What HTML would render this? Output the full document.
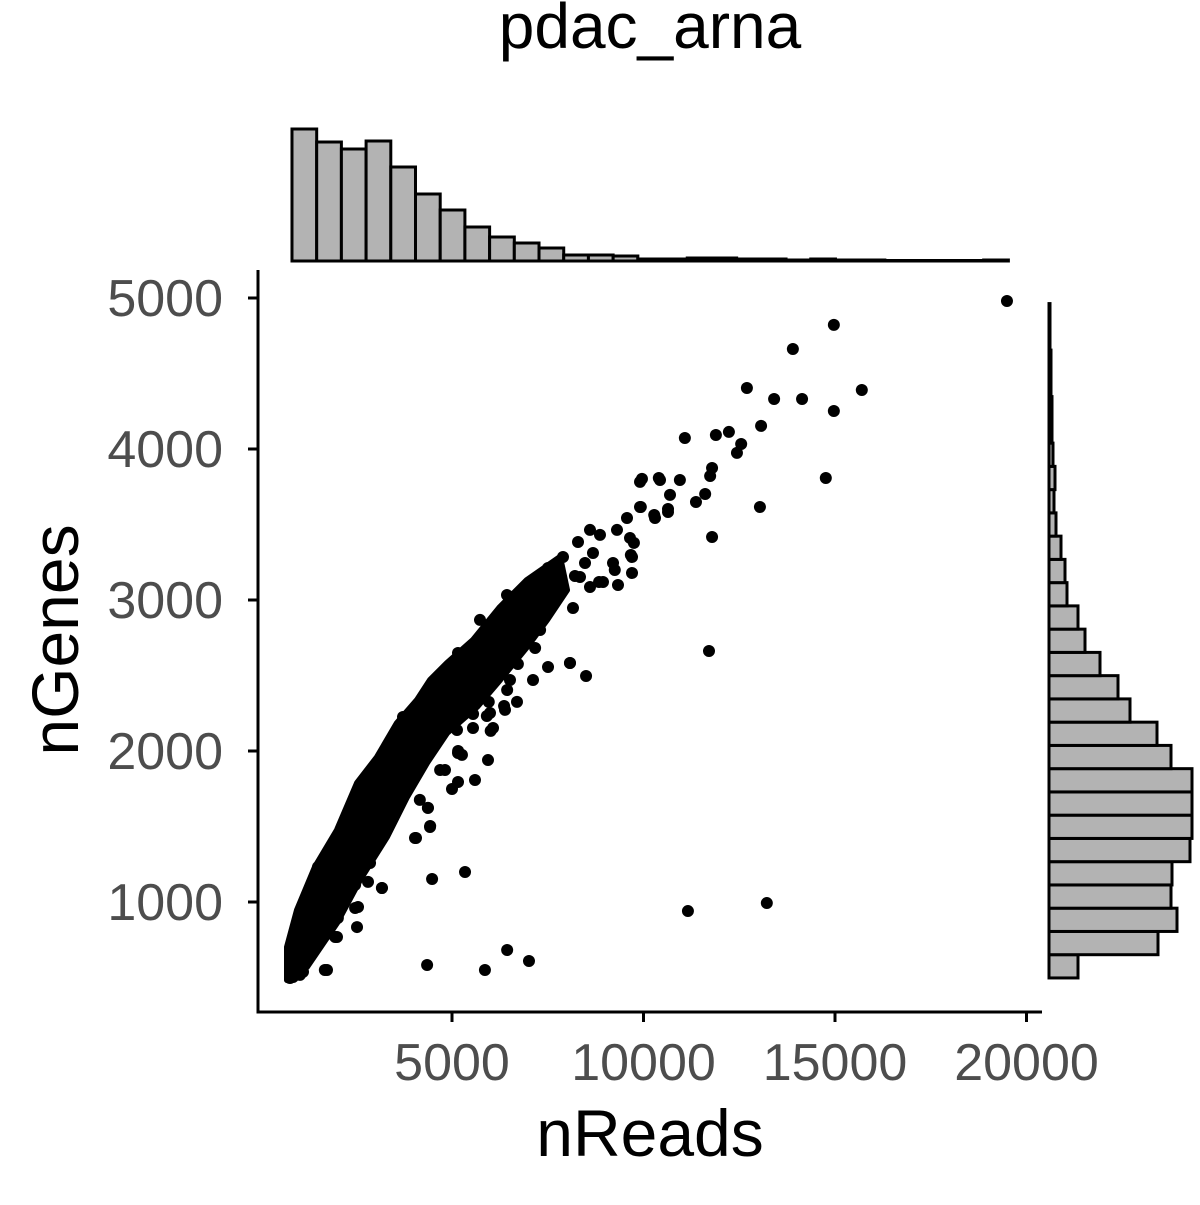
<!DOCTYPE html>
<html><head><meta charset="utf-8"><style>
html,body{margin:0;padding:0;background:#fff;}
svg text{font-family:"Liberation Sans",Arial,sans-serif;}
</style></head><body>
<svg id="chart" width="1200" height="1200" viewBox="0 0 1200 1200" xmlns="http://www.w3.org/2000/svg">
<text x="650" y="48" font-size="64" text-anchor="middle" fill="#000">pdac_arna</text>
<g id="marg-top"></g>
<g id="marg-right"></g>
<g id="points"></g>
<g id="axes"></g>
<text x="650" y="1156" font-size="66" text-anchor="middle" fill="#000">nReads</text>
<text transform="translate(78,640) rotate(-90)" font-size="66" text-anchor="middle" fill="#000">nGenes</text>
</svg>
<script>
const xTicks = [5000, 10000, 15000, 20000];
const yTicks = [1000, 2000, 3000, 4000, 5000];
const topBinStart = 822;
const topBinWidth = 645;
const topCounts = [132,119,112,120,94,67,51,34,24,18,13,6,6,5,2,2,3,3,2,2,1,2,1,1,0,0,0,0,1];
const rightBinStart = 497;
const rightBinWidth = 154;
const rightCounts = [29,109,128,122,123,141,143,143,143,122,108,81,69,51,36,29,18,16,12,7,5,6,4,3,3,2,2,1,1];
const coreUpperReads = [692,953,1423,1997,2520,3042,3564,4086,4426,4870,5548,6253,6958,7820];
const coreUpperGenes = [702,947,1232,1477,1788,1960,2186,2338,2470,2583,2735,2954,3133,3285];
const coreLowerReads = [8003,7481,6958,6253,5653,4870,4347,3825,3303,2598,1997,1214,692];
const coreLowerGenes = [3066,2868,2689,2470,2292,2119,1921,1695,1431,1146,861,570,483];
const pointReads = [19490,14970,13900,12700,13410,14140,15700,14970,11080,11890,12230,12550,12440,13070,11790,11740,14760,9960,10400,10950,11610,11370,13040,9930,10280,10640,11790,11710,8080,8500,9750,9670,9250,8840,8210,7770,7870,7510,7350,6980,7300,7170,6720,6440,6360,5960,6010,5910,5130,5550,5160,5940,5600,5260,5000,4690,4160,4060,4370,4430,4480,5340,2860,3170,2470,2470,2020,1950,1680,1030,4350,5860,6440,7010,11160,13220,900,770,
9909,10431,10692,9909,10300,10640,9569,8603,8290,8864,9308,9648,9700,9700,9334,8942,8603,8342,8473,8681,9204,7898,7507,7115,6436,5731,5157,3721,3381,2650,1501,8159,7507,8081,7115,6514,6697,6384,5992,6071,5548,5157,4817,5157,4373,4426,4034,3172,2807,2546,2520,1997,1736,1110,849];
const pointGenes = [4980,4822,4662,4404,4331,4331,4391,4252,4073,4093,4113,4033,3974,4153,3874,3821,3808,3802,3808,3795,3702,3649,3616,3616,3563,3603,3417,2662,2583,2497,3378,3298,3199,3119,3159,3212,3093,3066,2974,2868,2801,2682,2576,2404,2298,2325,2133,2232,2139,2245,2000,1940,1808,1974,1748,1874,1676,1424,1623,1503,1152,1199,1258,1093,1113,960,894,768,550,517,583,550,682,609,940,993,563,497,
3782,3795,3696,3616,3543,3583,3543,3464,3384,3431,3464,3411,3285,3179,3099,3119,3086,3152,3245,3311,3245,3285,3212,3133,3033,2868,2649,2225,2027,1795,1232,2947,2556,2583,2470,2470,2325,2272,2252,2152,2152,1987,1874,1795,1623,1497,1424,1093,1133,967,834,768,550,537,503];

const NS = "http://www.w3.org/2000/svg";
const sx = v => 260.5 + v * 0.0383;
const sy = v => 1053 - v * 0.151;
function mk(tag, attrs, parent){ const e=document.createElementNS(NS,tag); for(const k in attrs) e.setAttribute(k,attrs[k]); parent.appendChild(e); return e; }

const gt = document.getElementById('marg-top');
topCounts.forEach((c,i)=>{
  const x0 = sx(topBinStart + i*topBinWidth), x1 = sx(topBinStart + (i+1)*topBinWidth);
  const h = Math.max(c, 0.5);
  const r = mk('rect',{x:x0,y:261-h,width:x1-x0,height:h,fill:'#b3b3b3',stroke:'#000','stroke-width':3},gt);
  
  
});
const gr = document.getElementById('marg-right');
rightCounts.forEach((c,i)=>{
  const y0 = sy(rightBinStart + (i+1)*rightBinWidth), y1 = sy(rightBinStart + i*rightBinWidth);
  const r = mk('rect',{x:1049,y:y0,width:Math.max(c,0.5),height:y1-y0,fill:'#b3b3b3',stroke:'#000','stroke-width':3},gr);
  
  
});
const gp = document.getElementById('points');
let pts = [];
coreUpperReads.forEach((r,i)=>pts.push(sx(r)+','+sy(coreUpperGenes[i])));
coreLowerReads.forEach((r,i)=>pts.push(sx(r)+','+sy(coreLowerGenes[i])));
const core = mk('polygon',{points:pts.join(' '),fill:'#000',stroke:'#000','stroke-width':6,'stroke-linejoin':'round'},gp);


pointReads.forEach((r,i)=>{
  const c = mk('circle',{cx:sx(r),cy:sy(pointGenes[i]),r:6,fill:'#000'},gp);
  
  
});
const ga = document.getElementById('axes');
const yl = mk('line',{x1:258,y1:270,x2:258,y2:1013.5,stroke:'#000','stroke-width':3},ga);


const xl = mk('line',{x1:256.5,y1:1012,x2:1042,y2:1012,stroke:'#000','stroke-width':3},ga);


xTicks.forEach(v=>{
  const t = mk('line',{x1:sx(v),y1:1012,x2:sx(v),y2:1022,stroke:'#000','stroke-width':3},ga);
  
  
  const l = mk('text',{x:sx(v),y:1080,'font-size':52,'text-anchor':'middle',fill:'#4d4d4d'},ga);
  l.textContent = v;
  
  
});
yTicks.forEach(v=>{
  const t = mk('line',{x1:248,y1:sy(v),x2:258,y2:sy(v),stroke:'#000','stroke-width':3},ga);
  
  
  const l = mk('text',{x:223,y:sy(v)+18,'font-size':52,'text-anchor':'end',fill:'#4d4d4d'},ga);
  l.textContent = v;
  
  
});
</script>
</body></html>
